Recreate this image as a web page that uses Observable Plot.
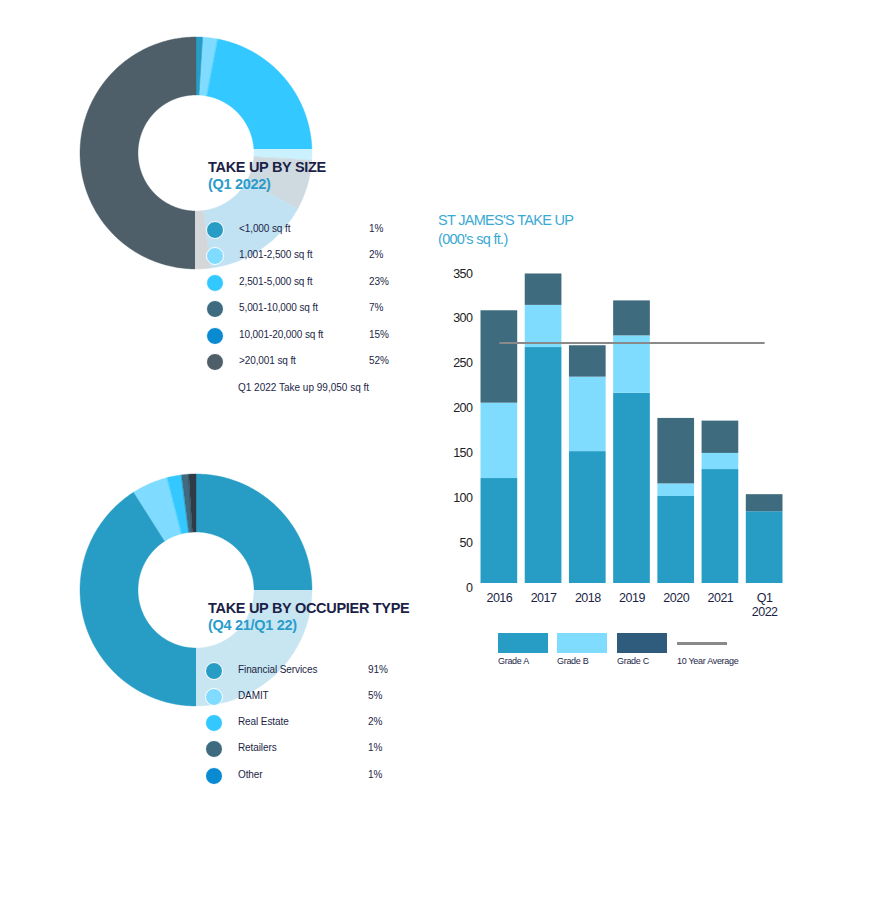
<!DOCTYPE html>
<html>
<head>
<meta charset="utf-8">
<script src="https://cdn.jsdelivr.net/npm/d3@7"></script>
<script src="https://cdn.jsdelivr.net/npm/@observablehq/plot@0.6"></script>
<style>
  html, body { margin: 0; padding: 0; background: #fff; }
  #page { position: relative; width: 869px; height: 900px; overflow: hidden;
          font-family: "Liberation Sans", Arial, sans-serif; color: #1c1f47; }
  .abs { position: absolute; }
  .panel { position: absolute; background: rgba(255,255,255,0.75); }
  .ttl { position: absolute; font-weight: bold; font-size: 14.5px; letter-spacing: -0.3px; line-height: 17px; white-space: nowrap; }
  .ttl .sub { color: #2a9ccb; }
  .row { position: absolute; height: 18px; font-size: 10px; letter-spacing: -0.1px; white-space: nowrap; }
  .row .dot { position: absolute; left: 0; top: 0; width: 16px; height: 16px; border-radius: 50%; border: 1px solid #fff; }
  .row .lab { position: absolute; left: 33px; top: 2px; }
  .row .pct { position: absolute; left: 163px; top: 2px; }
  .foot { position: absolute; font-size: 10px; white-space: nowrap; }
  .btitle { position: absolute; color: #3aa9d3; font-size: 14.5px; letter-spacing: -0.7px; line-height: 19px; white-space: nowrap; }
  .bl { position: absolute; font-size: 9px; letter-spacing: -0.3px; white-space: nowrap; color: #1c1f47; }
  svg { overflow: visible; }
</style>
</head>
<body>
<div id="page"></div>
<script>
// ---------- data ----------
const sizeLabels = ["<1,000 sq ft", "1,001-2,500 sq ft", "2,501-5,000 sq ft", "5,001-10,000 sq ft", "10,001-20,000 sq ft", ">20,001 sq ft"];
const sizeValues = [1, 2, 23, 7, 15, 52];
const sizeTotalNote = "Q1 2022 Take up 99,050 sq ft";

const occLabels = ["Financial Services", "DAMIT", "Real Estate", "Retailers", "Other"];
const occValues = [91, 5, 2, 1, 1];

const years = ["2016", "2017", "2018", "2019", "2020", "2021", "Q1 2022"];
const grades = ["Grade A", "Grade B", "Grade C"];
const gradeA = [117, 263, 147, 212, 97, 127, 80];
const gradeB = [84, 47, 83, 64, 14, 18, 0];
const gradeC = [103, 35, 35, 39, 73, 36, 19];
const tenYearAverage = 268;
const yTicks = [0, 50, 100, 150, 200, 250, 300, 350];

// ---------- styles ----------
const sizeColors = ["#279dc6", "#7fdbff", "#33c8ff", "#3e6b7f", "#0a8ad0", "#4f5f6a"];
const occLegendColors = ["#279dc6", "#7fdbff", "#33c8ff", "#3e6b7f", "#0a8ad0"];
const occSliceColors = ["#279dc6", "#7fdbff", "#33c8ff", "#3e6b7f", "#2f3b46"];
const gradeColors = ["#279dc6", "#7fdcff", "#3e6b7e"];
const gradeLegendColors = ["#279dc6", "#7fdcff", "#2f5b7c"];
const INNER = 0.5;

const page = document.getElementById("page");

function ringPoints(labels, values) {
  const arcs = d3.pie().sort(null).value(d => d)(values);
  const pts = [];
  arcs.forEach((a, i) => {
    const n = Math.max(2, Math.ceil((a.endAngle - a.startAngle) / 0.01) + 1);
    for (let k = 0; k < n; k++) {
      const t = a.startAngle + (a.endAngle - a.startAngle) * k / (n - 1);
      pts.push({label: labels[i], x1: INNER * Math.sin(t), y1: INNER * Math.cos(t), x2: Math.sin(t), y2: Math.cos(t)});
    }
  });
  return pts;
}

function donut(labels, values, colors) {
  return Plot.plot({
    width: 232, height: 232, margin: 0,
    style: {background: "transparent", overflow: "visible"},
    x: {domain: [-1, 1], axis: null},
    y: {domain: [-1, 1], axis: null},
    color: {domain: labels, range: colors},
    marks: [
      Plot.area(ringPoints(labels, values), {
        x1: "x1", y1: "y1", x2: "x2", y2: "y2", z: "label",
        fill: "label", stroke: "label", strokeWidth: 0.4, curve: "linear"
      })
    ]
  });
}

function place(el, left, top) {
  el.style.position = "absolute";
  el.style.left = left + "px";
  el.style.top = top + "px";
  page.appendChild(el);
  return el;
}

function div(cls, html, left, top) {
  const d = document.createElement("div");
  d.className = cls;
  if (html != null) d.innerHTML = html;
  d.style.left = left + "px";
  d.style.top = top + "px";
  page.appendChild(d);
  return d;
}

function legendRows(labels, values, colors, left, top, step) {
  labels.forEach((lab, i) => {
    const r = div("row", null, left, top + i * step);
    const dot = document.createElement("div"); dot.className = "dot"; dot.style.background = colors[i];
    const l = document.createElement("div"); l.className = "lab"; l.textContent = lab;
    const p = document.createElement("div"); p.className = "pct"; p.textContent = values[i] + "%";
    r.append(dot, l, p);
  });
}

// ---------- top donut ----------
place(donut(sizeLabels, sizeValues, sizeColors), 80, 37);
const p1 = div("panel", null, 195, 149); p1.style.width = "240px"; p1.style.height = "260px";
div("ttl", 'TAKE UP BY SIZE<br><span class="sub">(Q1 2022)</span>', 208, 159);
legendRows(sizeLabels, sizeValues, sizeColors, 206, 220.5, 26.5);
div("foot", sizeTotalNote, 238, 382);

// ---------- bottom donut ----------
place(donut(occLabels, occValues, occSliceColors), 80, 474);
const p2 = div("panel", null, 196, 590); p2.style.width = "240px"; p2.style.height = "200px";
div("ttl", 'TAKE UP BY OCCUPIER TYPE<br><span class="sub">(Q4 21/Q1 22)</span>', 208, 600);
legendRows(occLabels, occValues, occLegendColors, 205, 661.5, 26.3);

// ---------- bar chart ----------
div("btitle", "ST JAMES'S TAKE UP<br>(000's sq ft.)", 438, 211);

const barData = [];
years.forEach((y, i) => {
  barData.push({year: y, grade: grades[0], value: gradeA[i]});
  barData.push({year: y, grade: grades[1], value: gradeB[i]});
  barData.push({year: y, grade: grades[2], value: gradeC[i]});
});
const avgData = [{year: years[0], value: tenYearAverage}, {year: years[years.length - 1], value: tenYearAverage}];

const bars = Plot.plot({
  width: 380, height: 374,
  marginTop: 20, marginBottom: 40, marginLeft: 53, marginRight: 10,
  style: {background: "transparent", overflow: "visible", fontFamily: "Liberation Sans, Arial, sans-serif", letterSpacing: "-0.5px"},
  x: {domain: years, padding: 0.17, round: false, axis: null},
  y: {domain: [0, 350], axis: null},
  color: {domain: grades, range: gradeColors},
  marks: [
    Plot.barY(barData, {x: "year", y: "value", fill: "grade", order: grades}),
    Plot.line(avgData, {x: "year", y: "value", stroke: "#8a8a8a", strokeWidth: 2, strokeLinecap: "butt"}),
    Plot.axisY({ticks: yTicks, tickSize: 0, tickPadding: 1, dy: 4, fontSize: 12.5, fill: "#222", label: null}),
    Plot.axisX({tickSize: 0, tickPadding: 8, fontSize: 12.5, lineHeight: 1.15, fill: "#1c1f47",
      tickFormat: d => d.replace(" ", "\n"), label: null})
  ]
});
place(bars, 420, 249);

// bar legend
const swX = [498, 557, 617];
grades.forEach((g, i) => {
  const s = div("abs", null, swX[i], 633);
  s.style.width = "50px"; s.style.height = "20px"; s.style.background = gradeLegendColors[i];
  div("bl", g, swX[i], 656);
});
const ln = div("abs", null, 677, 642); ln.style.width = "50px"; ln.style.height = "3px"; ln.style.background = "#8a8a8a";
div("bl", "10 Year Average", 677, 656);
</script>
</body>
</html>
